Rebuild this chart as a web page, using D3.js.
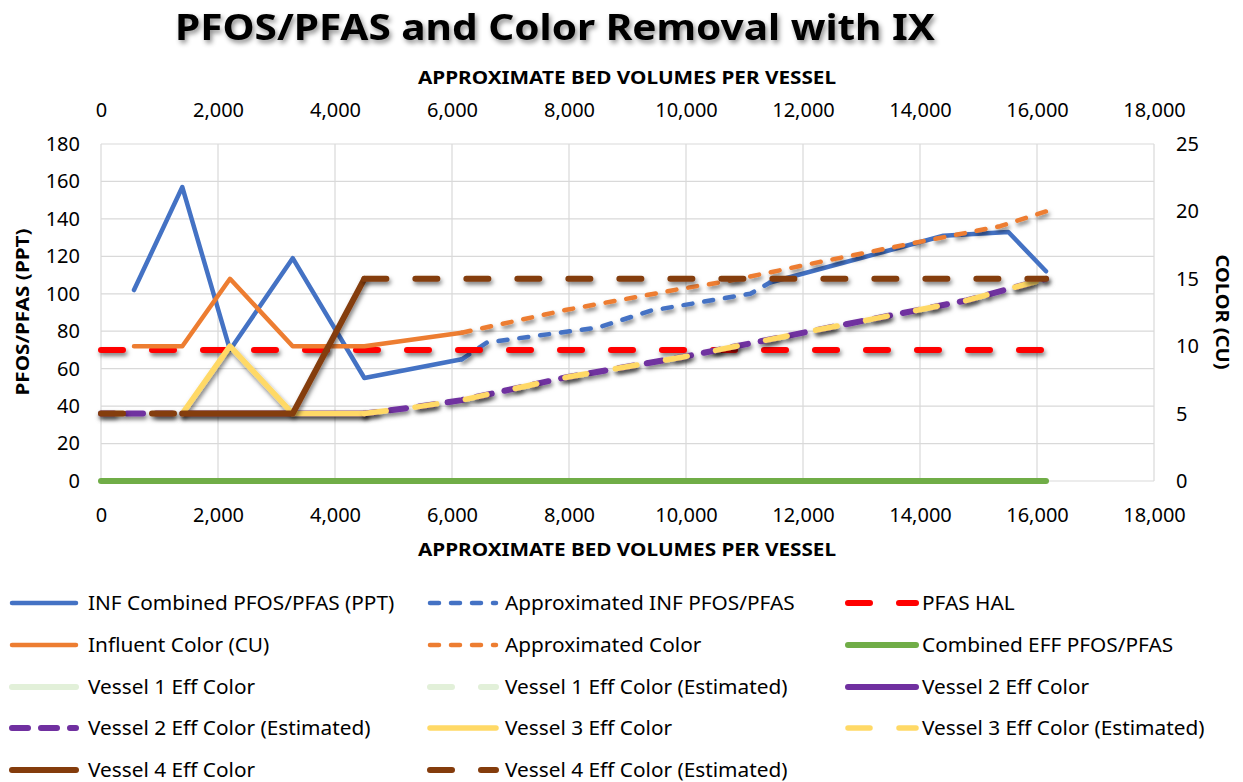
<!DOCTYPE html>
<html><head><meta charset="utf-8">
<script src="https://cdn.jsdelivr.net/npm/d3@7"></script>
<style>
html,body{margin:0;padding:0;background:#fff;}
text{font-family:"Noto Sans","Open Sans",sans-serif;fill:#000;}
</style></head>
<body>
<svg id="chart" width="1243" height="782"></svg>
<script>
// ---------- DATA ----------
const xTicks = [0,2000,4000,6000,8000,10000,12000,14000,16000,18000];
const yLeftTicks = [0,20,40,60,80,100,120,140,160,180];
const yRightTicks = [0,5,10,15,20,25];

// [bed volumes, value]  (PFOS/PFAS series in PPT on left axis; colour series in CU on right axis)
const infPfas      = [[564,102],[1390,157],[2205,70],[3277,119],[4502,55],[6166,65],null,[11436,106],[14400,131],[15510,133],[16154,112]];
const approxInfPfas= [[6166,65],[6600,74],[8500,82],[9400,91],[11100,100],[11436,106]];
const pfasHal      = [[0,70],[16154,70]];
const influentColor= [[564,10],[1390,10],[2205,15],[3277,10],[4502,10],[6166,11]];
const approxColor  = [[6166,11],[7960,12.7],[9840,14.2],[10800,14.9],[12230,16.2],[13830,17.6],[15370,18.9],[16154,20]];
const combinedEff  = [[0,0],[16154,0]];
const vessel1Color = [];
const vessel1Est   = [];
const vessel2Color = [[1390,5],[2205,5],[3277,5],[4502,5]];
const vessel2Est   = [[0,5],[1390,5],null,[4502,5],[5400,5.5],[6166,6],[7960,7.7],[9950,9.2],[12231,11.2],[14800,13.4],[16154,15]];
const vessel3Color = [[1390,5],[2205,10],[3277,5],[4502,5]];
const vessel3Est   = [[4502,5],[5400,5.5],[6166,6],[7960,7.7],[9950,9.2],[12231,11.2],[14800,13.4],[16154,15]];
const vessel4Color = [[1390,5],[2205,5],[3277,5],[4502,15]];
const vessel4Est   = [[0,5],[1390,5],null,[4502,15],[16154,15]];

const seriesNames = [
 "INF Combined PFOS/PFAS (PPT)","Approximated INF PFOS/PFAS","PFAS HAL",
 "Influent Color (CU)","Approximated Color","Combined EFF PFOS/PFAS",
 "Vessel 1 Eff Color","Vessel 1 Eff Color (Estimated)","Vessel 2 Eff Color",
 "Vessel 2 Eff Color (Estimated)","Vessel 3 Eff Color","Vessel 3 Eff Color (Estimated)",
 "Vessel 4 Eff Color","Vessel 4 Eff Color (Estimated)"];

// ---------- STYLE ----------
const LONG = "22,29", SHORT = "9,12", MID = "16,13";
const series = [
 {name:seriesNames[0], data:infPfas, axis:"L", color:"#4472C4", w:4.5, dash:null, sh:false},
 {name:seriesNames[1], data:approxInfPfas, axis:"L", color:"#4472C4", w:4.5, dash:SHORT, sh:true},
 {name:seriesNames[2], data:pfasHal, axis:"L", color:"#FF0000", w:6, dash:LONG, sh:true},
 {name:seriesNames[3], data:influentColor, axis:"R", color:"#ED7D31", w:4.5, dash:null, sh:false},
 {name:seriesNames[4], data:approxColor, axis:"R", color:"#ED7D31", w:4.5, dash:SHORT, sh:true},
 {name:seriesNames[5], data:combinedEff, axis:"L", color:"#70AD47", w:6, dash:null, sh:false},
 {name:seriesNames[6], data:vessel1Color, axis:"R", color:"#E2F0D9", w:6, dash:null, sh:false},
 {name:seriesNames[7], data:vessel1Est, axis:"R", color:"#E2F0D9", w:6, dash:LONG, sh:false},
 {name:seriesNames[8], data:vessel2Color, axis:"R", color:"#7030A0", w:6, dash:null, sh:true},
 {name:seriesNames[9], data:vessel2Est, axis:"R", color:"#7030A0", w:6, dash:MID, sh:true, off:-26},
 {name:seriesNames[10], data:vessel3Color, axis:"R", color:"#FFD966", w:5.5, dash:null, sh:true},
 {name:seriesNames[11], data:vessel3Est, axis:"R", color:"#FFD966", w:5.5, dash:LONG, sh:true},
 {name:seriesNames[12], data:vessel4Color, axis:"R", color:"#843C0C", w:6, dash:null, sh:true},
 {name:seriesNames[13], data:vessel4Est, axis:"R", color:"#843C0C", w:6, dash:LONG, sh:true}
];

const svg = d3.select("#chart");
const L = 101, R = 1154, T = 144, B = 481;
const x = d3.scaleLinear().domain([0,18000]).range([L,R]);
const yL = d3.scaleLinear().domain([0,180]).range([B,T]);
const yR = d3.scaleLinear().domain([0,25]).range([B,T]);

const defs = svg.append("defs");
const f = defs.append("filter").attr("id","sh").attr("filterUnits","userSpaceOnUse")
  .attr("x",85).attr("y",135).attr("width",1085).attr("height",360);
f.append("feDropShadow").attr("dx",1.5).attr("dy",3).attr("stdDeviation",2).attr("flood-color","#000").attr("flood-opacity",0.5);
const ft = defs.append("filter").attr("id","tsh").attr("filterUnits","userSpaceOnUse")
  .attr("x",150).attr("y",0).attr("width",820).attr("height",60);
ft.append("feDropShadow").attr("dx",2).attr("dy",3).attr("stdDeviation",2.5).attr("flood-color","#000").attr("flood-opacity",0.45);

// grid
svg.append("g").selectAll("line").data(xTicks).join("line")
  .attr("x1",d=>x(d)).attr("x2",d=>x(d)).attr("y1",T).attr("y2",B)
  .attr("stroke","#D9D9D9").attr("stroke-width",1.2);
svg.append("g").selectAll("line").data(yLeftTicks).join("line")
  .attr("x1",L).attr("x2",R).attr("y1",d=>yL(d)).attr("y2",d=>yL(d))
  .attr("stroke","#D9D9D9").attr("stroke-width",1.2);

// axes
const fmt = d3.format(",");
const axStyle = g => { g.select(".domain").remove(); g.selectAll("text").attr("font-size",20).attr("fill","#000").style("font-family","'Noto Sans',sans-serif"); };
svg.append("g").attr("transform",`translate(0,${B+22})`)
  .call(d3.axisBottom(x).tickValues(xTicks).tickFormat(fmt).tickSize(0).tickPadding(5)).call(axStyle);
svg.append("g").attr("transform",`translate(0,${T-22})`)
  .call(d3.axisTop(x).tickValues(xTicks).tickFormat(fmt).tickSize(0).tickPadding(5)).call(axStyle);
svg.append("g").attr("transform",`translate(${L-21},0)`)
  .call(d3.axisLeft(yL).tickValues(yLeftTicks).tickSize(0).tickPadding(0)).call(axStyle);
svg.append("g").attr("transform",`translate(${R+22},0)`)
  .call(d3.axisRight(yR).tickValues(yRightTicks).tickSize(0).tickPadding(0)).call(axStyle);

// lines (each unbroken run drawn as its own path so the dash pattern restarts)
const gl = svg.append("g");
series.forEach(s => {
  if (!s.data.length) return;
  const ys = s.axis === "L" ? yL : yR;
  const line = d3.line().x(d=>x(d[0])).y(d=>ys(d[1]));
  const segs = [[]];
  s.data.forEach(d => { if (d === null) segs.push([]); else segs[segs.length-1].push(d); });
  segs.filter(sg => sg.length > 1).forEach(sg => {
    const p = gl.append("path").datum(sg).attr("d",line)
      .attr("fill","none").attr("stroke",s.color).attr("stroke-width",s.w)
      .attr("stroke-linejoin","round").attr("stroke-linecap","round");
    if (s.dash) p.attr("stroke-dasharray",s.dash);
    if (s.off) p.attr("stroke-dashoffset",s.off);
    if (s.sh) p.attr("filter","url(#sh)");
  });
});

// titles
svg.append("text").attr("x",555).attr("y",40).attr("text-anchor","middle")
  .attr("font-size",36).attr("font-weight","bold").attr("textLength",760).attr("lengthAdjust","spacingAndGlyphs")
  .attr("filter","url(#tsh)").text("PFOS/PFAS and Color Removal with IX");
svg.append("text").attr("x",627).attr("y",84).attr("text-anchor","middle")
  .attr("font-size",18).attr("font-weight","bold").attr("textLength",418).attr("lengthAdjust","spacingAndGlyphs")
  .text("APPROXIMATE BED VOLUMES PER VESSEL");
svg.append("text").attr("x",627).attr("y",556).attr("text-anchor","middle")
  .attr("font-size",18).attr("font-weight","bold").attr("textLength",418).attr("lengthAdjust","spacingAndGlyphs")
  .text("APPROXIMATE BED VOLUMES PER VESSEL");
svg.append("text").attr("transform","translate(29,312) rotate(-90)").attr("text-anchor","middle")
  .attr("font-size",18).attr("font-weight","bold").attr("textLength",167).attr("lengthAdjust","spacingAndGlyphs")
  .text("PFOS/PFAS (PPT)");
svg.append("text").attr("transform","translate(1216,312) rotate(90)").attr("text-anchor","middle")
  .attr("font-size",18).attr("font-weight","bold").attr("textLength",115).attr("lengthAdjust","spacingAndGlyphs")
  .text("COLOR (CU)");

// legend
const colX = [{l:9, r:79, t:88},{l:427, r:499, t:505},{l:845, r:919, t:922}];
const rowY = [603,645,687,728,770];
const lg = svg.append("g");
series.forEach((s,i) => {
  const c = colX[i%3], ry = rowY[Math.floor(i/3)];
  const ln = lg.append("line").attr("x1",c.l+3).attr("x2",c.r-3).attr("y1",ry).attr("y2",ry)
    .attr("stroke",s.color).attr("stroke-width",s.w).attr("stroke-linecap","round");
  if (s.dash) ln.attr("stroke-dasharray",s.dash);
  lg.append("text").attr("x",c.t).attr("y",ry).attr("dy","0.35em").attr("font-size",20.8).text(s.name);
});
</script>
</body></html>
